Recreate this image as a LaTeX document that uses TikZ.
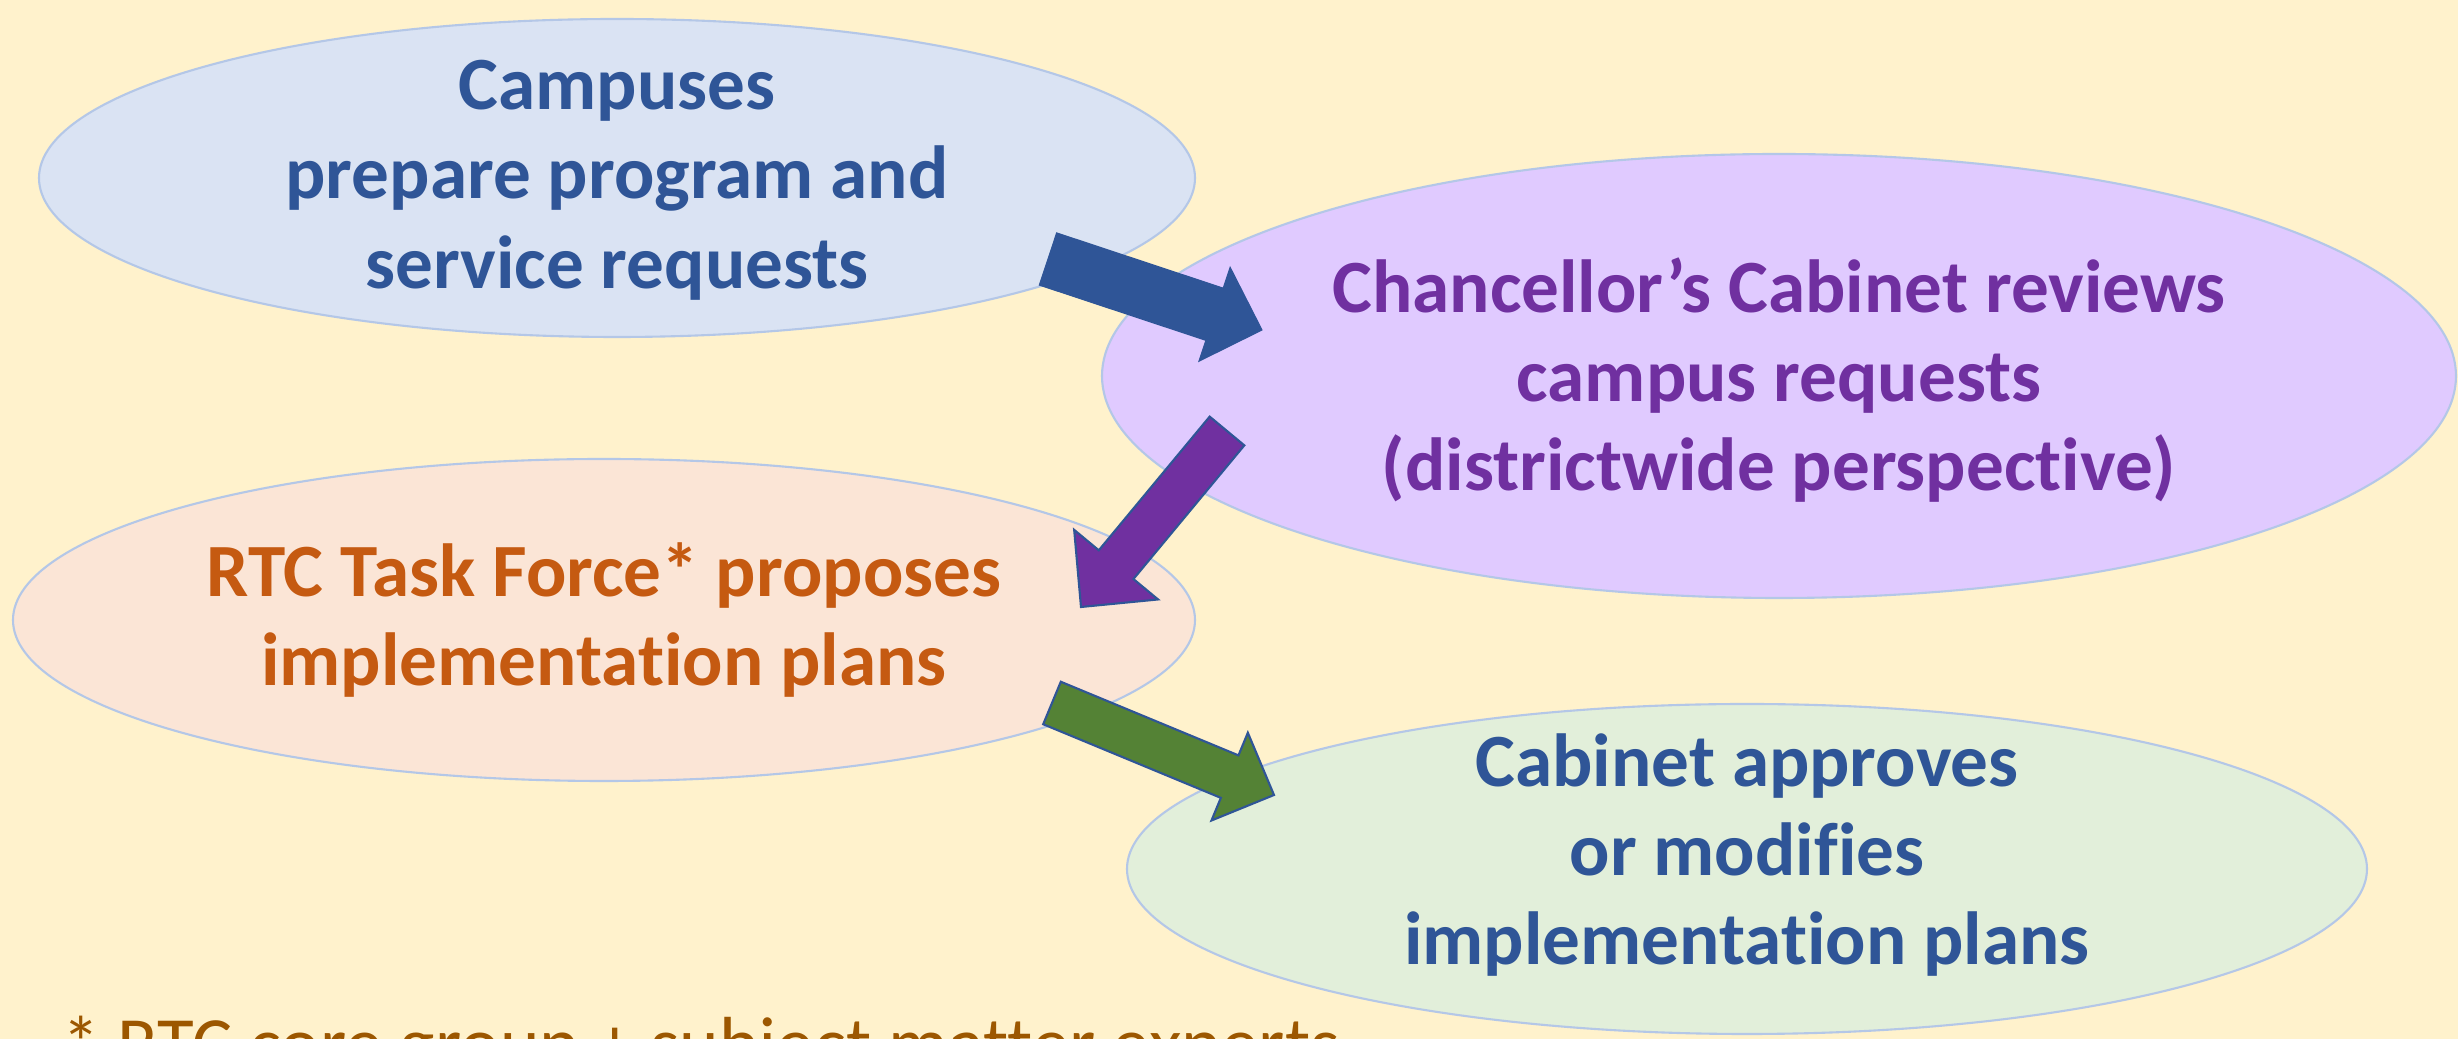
\documentclass[tikz,border=0pt]{standalone}
\usepackage{fontspec}
\setmainfont{Carlito}[Ligatures=CommonOff]
\usepackage{tikz}
\usetikzlibrary{
    calc,
    shapes.geometric
}
\definecolor{bgyellow}{HTML}{FFF2CC}
\definecolor{edgeblue}{HTML}{B4C7E7}
\definecolor{darkblue}{HTML}{2F5597}
\definecolor{lightblue}{HTML}{DAE3F3}
\definecolor{lavender}{HTML}{E0CAFF}
\definecolor{purple}{HTML}{7030A0}
\definecolor{peach}{HTML}{FBE5D6}
\definecolor{rust}{HTML}{C55A11}
\definecolor{palegreen}{HTML}{E2EFDA}
\definecolor{leafgreen}{HTML}{548235}
\definecolor{footbrown}{HTML}{9C5700}
\tikzset{
    bubble/.style={ellipse, draw=edgeblue, line width=0.6pt, inner sep=0pt},
    bubbletext/.style={align=center, inner sep=0pt, font=\fontsize{21.4}{25.4}\selectfont\bfseries}
}
% block arrow: style, tail, tip, half shaft width, half head width, head length
\newcommand{\blockarrow}[6]{%
    \coordinate (#2-b) at ($(#3)!#6!(#2)$);
    \draw[#1] ($(#2)!#4!90:(#3)$) -- ($(#2-b)!#4!90:(#3)$) -- ($(#2-b)!#5!90:(#3)$) -- (#3)
        -- ($(#2-b)!#5!-90:(#3)$) -- ($(#2-b)!#4!-90:(#3)$) -- ($(#2)!#4!-90:(#3)$) -- cycle;
}

\begin{document}
\begin{tikzpicture}
        \useasboundingbox (0,0) rectangle (24.58,10.39);
        \clip (0,0) rectangle (24.58,10.39);
        \fill[bgyellow] (0,0) rectangle (24.58,10.39);

        \draw (6.17,8.61) node[bubble, fill=lightblue, minimum width=11.56cm, minimum height=3.18cm](campus){};
        \draw (17.79,6.63) node[bubble, fill=lavender, minimum width=13.54cm, minimum height=4.44cm](cabinet){};
        \draw (6.04,4.19) node[bubble, fill=peach, minimum width=11.82cm, minimum height=3.22cm](taskforce){};
        \draw (17.47,1.70) node[bubble, fill=palegreen, minimum width=12.40cm, minimum height=3.30cm](approve){};

        \draw ([yshift=-0.02cm]campus.center) node[bubbletext, text=darkblue](campusT){Campuses\\prepare program and\\service requests};
        \draw ([yshift=-0.04cm]cabinet.center) node[bubbletext, text=purple](cabinetT){Chancellor’s Cabinet reviews\\campus requests\\(districtwide perspective)};
        \draw (taskforce) node[bubbletext, text=rust](taskforceT){RTC Task Force* proposes\\implementation plans};
        \draw ([yshift=0.14cm]approve.center) node[bubbletext, text=darkblue](approveT){Cabinet approves\\or modifies\\implementation plans};

        \coordinate (a1) at (10.48,7.80);
        \coordinate (b1) at (12.62,7.09);
        \coordinate (a2) at (12.27,6.08);
        \coordinate (b2) at (10.81,4.32);
        \coordinate (a3) at (10.52,3.36);
        \coordinate (b3) at (12.74,2.44);

        \blockarrow{fill=darkblue, draw=darkblue, line width=0.3pt}{a1}{b1}{0.275cm}{0.495cm}{0.50cm}
        \blockarrow{fill=purple, draw=darkblue, line width=0.6pt}{a2}{b2}{0.225cm}{0.545cm}{0.55cm}
        \blockarrow{fill=leafgreen, draw=darkblue, line width=0.6pt}{a3}{b3}{0.23cm}{0.475cm}{0.48cm}

        \draw (0.62,-0.31) node[anchor=base west, inner sep=0pt, text=footbrown, font=\fontsize{21.4}{25.4}\selectfont](note){* RTC core group + subject matter experts};
    \end{tikzpicture}
\end{document}
